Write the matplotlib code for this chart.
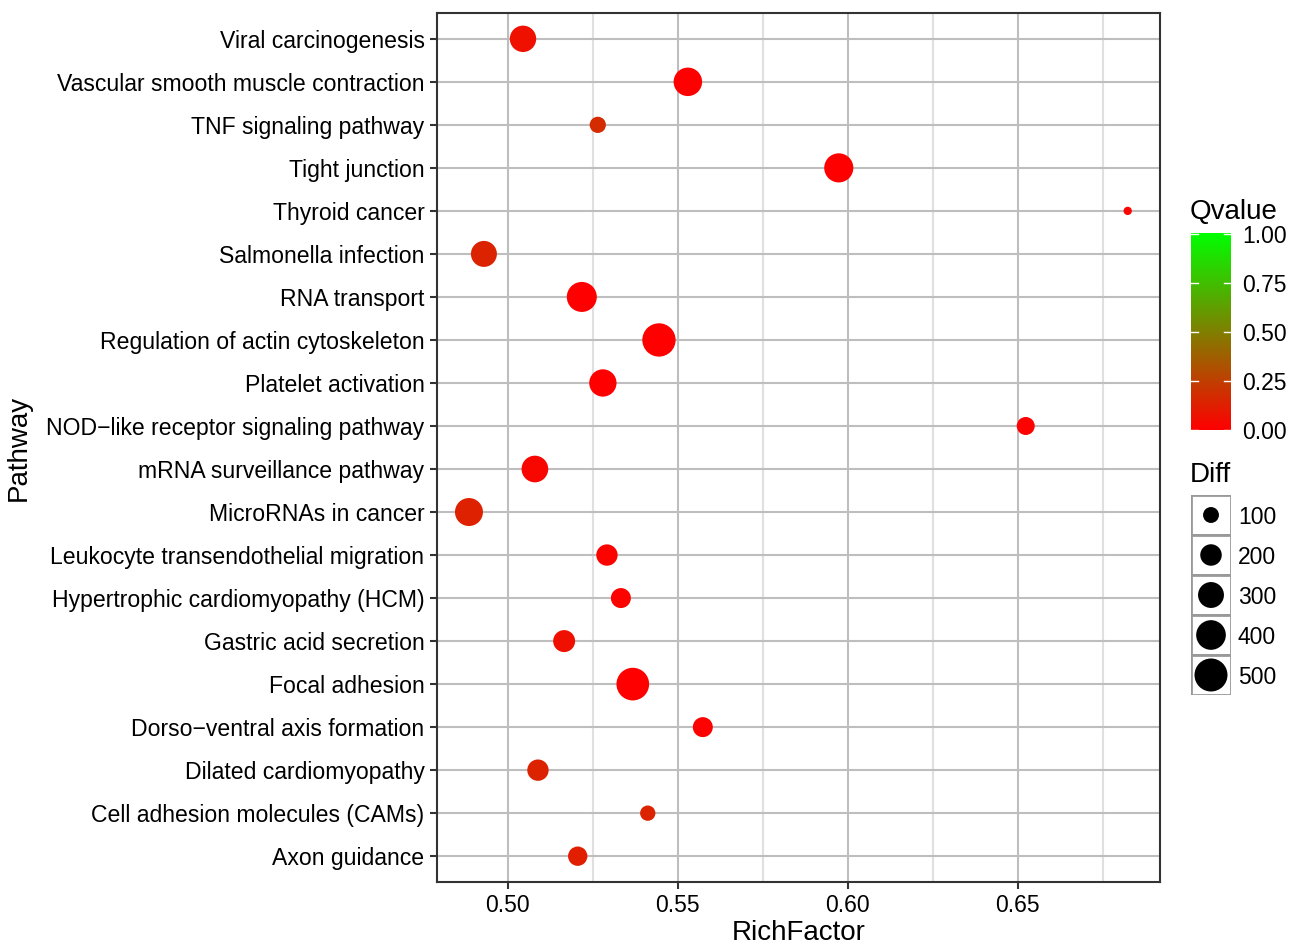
import matplotlib.pyplot as plt
import numpy as np
from matplotlib.colors import LinearSegmentedColormap, Normalize
from matplotlib.patches import Rectangle

# Data (top to bottom as shown in the chart)
pathways = [
    "Viral carcinogenesis", "Vascular smooth muscle contraction",
    "TNF signaling pathway", "Tight junction", "Thyroid cancer",
    "Salmonella infection", "RNA transport", "Regulation of actin cytoskeleton",
    "Platelet activation", "NOD\u2212like receptor signaling pathway",
    "mRNA surveillance pathway", "MicroRNAs in cancer",
    "Leukocyte transendothelial migration", "Hypertrophic cardiomyopathy (HCM)",
    "Gastric acid secretion", "Focal adhesion", "Dorso\u2212ventral axis formation",
    "Dilated cardiomyopathy", "Cell adhesion molecules (CAMs)", "Axon guidance",
]
rich_factor = [0.5045, 0.553, 0.5265, 0.5974, 0.6824, 0.493, 0.5218, 0.5445,
               0.528, 0.6524, 0.508, 0.4886, 0.5292, 0.5333, 0.5166, 0.5368,
               0.5574, 0.5089, 0.5412, 0.5206]
diff = [312, 367, 105, 385, 12, 302, 410, 510, 336, 134, 319, 354, 197, 170,
        210, 490, 170, 197, 91, 158]
qvalue = [0.065, 0.0, 0.17, 0.0, 0.02, 0.14, 0.0, 0.0, 0.0, 0.01, 0.03, 0.13,
          0.015, 0.015, 0.065, 0.0, 0.01, 0.14, 0.14, 0.12]

size_breaks = [100, 200, 300, 400, 500]
q_breaks = [0.0, 0.25, 0.5, 0.75, 1.0]


def to_size(v):
    # diameter^2 in pixels is roughly linear in Diff; convert to points^2
    d2 = 44 + 2.09 * np.asarray(v, dtype=float)
    return d2 / (100 / 72) ** 2


plt.rcParams['font.family'] = ['Liberation Sans', 'DejaVu Sans']

cmap = LinearSegmentedColormap.from_list("rg", ["#FF0000", "#00FF00"])
norm = Normalize(0, 1)

W, H = 1303, 948
fig = plt.figure(figsize=(W / 100, H / 100), dpi=100)
ax = fig.add_axes([437 / W, 1 - 882 / H, (1160 - 437) / W, (882 - 13) / H])

n = len(pathways)
ypos = np.arange(n)[::-1]
ax.scatter(rich_factor, ypos, s=to_size(diff), c=qvalue, cmap=cmap, norm=norm,
           linewidths=0, zorder=3)

ax.set_xlim(0.4792, 0.6919)
ax.set_ylim(-0.6, n - 1 + 0.6)
ax.set_yticks(ypos)
ax.set_yticklabels(pathways, fontsize=16.6)
ax.set_xticks([0.50, 0.55, 0.60, 0.65])
ax.set_xticklabels(["0.50", "0.55", "0.60", "0.65"], fontsize=16.5)
ax.set_xticks([0.525, 0.575, 0.625, 0.675], minor=True)
ax.tick_params(axis='both', which='major', length=5, width=1.5, color='#333333',
               labelcolor='black', pad=4)
ax.tick_params(axis='x', which='minor', length=0)
ax.grid(True, which='major', color='#BEBEBE', linewidth=1.5, zorder=0)
ax.grid(True, which='minor', axis='x', color='#E0E0E0', linewidth=1.5, zorder=0)
ax.set_axisbelow(True)
for sp in ax.spines.values():
    sp.set_color('#333333')
    sp.set_linewidth(1.5)

ax.set_xlabel("RichFactor", fontsize=20)
ax.xaxis.set_label_coords(0.5, -0.044)
ax.set_ylabel("Pathway", fontsize=20)
ax.yaxis.set_label_coords(-0.561, 0.5)

# Colour legend
cax = fig.add_axes([1191 / W, 1 - 432 / H, 40 / W, 200 / H])
grad = np.linspace(0, 1, 256).reshape(-1, 1)
cax.imshow(grad, cmap=cmap, norm=norm, aspect='auto', origin='lower',
           extent=[0, 1, 0, 1])
for q in q_breaks:
    cax.plot([0, 0.18], [q, q], color='white', lw=1)
    cax.plot([0.82, 1], [q, q], color='white', lw=1)
cax.set_xlim(0, 1)
cax.set_ylim(-0.01, 1.01)
cax.set_xticks([])
cax.yaxis.tick_right()
cax.set_yticks(q_breaks)
cax.set_yticklabels([f"{q:.2f}" for q in q_breaks], fontsize=16.5)
cax.tick_params(axis='y', length=0, pad=8)
for sp in cax.spines.values():
    sp.set_visible(False)
fig.text(1190 / W, 1 - 212 / H, "Qvalue", fontsize=20, va='center', ha='left')

# Size legend
sax = fig.add_axes([1191 / W, 1 - 695 / H, 40 / W, 200 / H])
sax.set_xlim(0, 1)
sax.set_ylim(0, len(size_breaks))
sy = np.arange(len(size_breaks))[::-1] + 0.5
for y in sy:
    sax.add_patch(Rectangle((0, y - 0.5), 1, 1, facecolor='white',
                            edgecolor='#999999', linewidth=2))
sax.scatter([0.5] * len(size_breaks), sy, s=to_size(size_breaks), color='black',
            linewidths=0, zorder=3)
sax.set_xticks([])
sax.yaxis.tick_right()
sax.set_yticks(sy)
sax.set_yticklabels([str(v) for v in size_breaks], fontsize=16.5)
sax.tick_params(axis='y', length=0, pad=5)
for sp in sax.spines.values():
    sp.set_visible(False)
fig.text(1190 / W, 1 - 475 / H, "Diff", fontsize=20, va='center', ha='left')

fig.savefig("out.png", dpi=100)
